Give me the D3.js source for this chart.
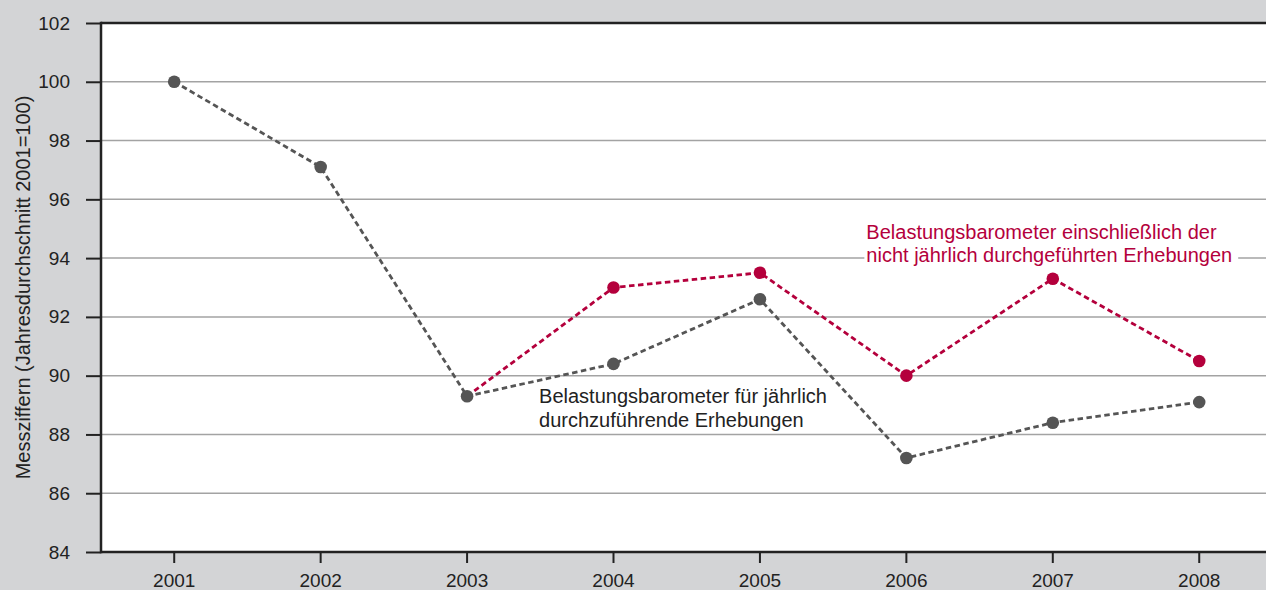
<!DOCTYPE html>
<html>
<head>
<meta charset="utf-8">
<script src="https://cdn.jsdelivr.net/npm/d3@7"></script>
<style>
  body { margin: 0; background: #d3d4d6; }
  svg { display: block; font-family: "Liberation Sans", Arial, Helvetica, sans-serif; }
</style>
</head>
<body>
<div id="chart"></div>
<script>
"use strict";

var years = ["2001", "2002", "2003", "2004", "2005", "2006", "2007", "2008"];
var annualValues = [100, 97.1, 89.3, 90.4, 92.6, 87.2, 88.4, 89.1];
var totalYears = ["2003", "2004", "2005", "2006", "2007", "2008"];
var totalValues = [89.3, 93.0, 93.5, 90.0, 93.3, 90.5];
var yTicks = [84, 86, 88, 90, 92, 94, 96, 98, 100, 102];
var yLabel = "Messziffern (Jahresdurchschnitt 2001=100)";
var annualLabel = ["Belastungsbarometer für jährlich", "durchzuführende Erhebungen"];
var totalLabel = ["Belastungsbarometer einschließlich der", "nicht jährlich durchgeführten Erhebungen"];

var W = 1266, H = 590;
var margin = {top: 23, left: 101, bottom: 38};
var band = 146.43;
var width = band * years.length,
    height = H - margin.top - margin.bottom;

var gray = "#555555", red = "#b4003c", ink = "#222222";

var svg = d3.select("#chart")
            .append("svg")
            .attr("width", W)
            .attr("height", H);

svg.append("rect").attr("width", W).attr("height", H).attr("fill", "#d3d4d6");

var g = svg.append("g")
           .attr("transform", "translate(" + margin.left + "," + margin.top + ")");

var x = d3.scaleBand().domain(years).range([0, width]).paddingInner(0);
var cx = function(d) { return x(d) + x.bandwidth() / 2; };

var y = d3.scaleLinear().domain([84, 102]).range([height, 0]);

// plot area
g.append("rect")
 .attr("width", width)
 .attr("height", height)
 .attr("fill", "#fff");

// grid lines
g.append("g")
 .selectAll("line")
 .data(yTicks.filter(function(t){ return t > 84 && t < 102; }))
 .enter().append("line")
 .attr("x1", 0).attr("x2", width)
 .attr("y1", function(d){ return y(d); })
 .attr("y2", function(d){ return y(d); })
 .attr("stroke", "#a3a3a3")
 .attr("stroke-width", 1.5);

// y axis
var yAxis = g.append("g")
 .call(d3.axisLeft(y).tickValues(yTicks).tickSize(15).tickPadding(16).tickFormat(d3.format("d")));
yAxis.select(".domain").remove();
yAxis.selectAll(".tick line").attr("stroke", ink).attr("stroke-width", 2);
yAxis.selectAll(".tick text").attr("font-size", 19).attr("fill", ink)
     .attr("font-family", "Liberation Sans, Arial, sans-serif");

// x axis
var xAxis = g.append("g")
 .attr("transform", "translate(0," + height + ")")
 .call(d3.axisBottom(x).tickSize(11).tickPadding(11));
xAxis.select(".domain").remove();
xAxis.selectAll(".tick line").attr("stroke", ink).attr("stroke-width", 2);
xAxis.selectAll(".tick text").attr("font-size", 19).attr("fill", ink)
     .attr("font-family", "Liberation Sans, Arial, sans-serif");

// frame lines
g.append("line").attr("x1", 0).attr("x2", width).attr("y1", 0).attr("y2", 0)
 .attr("stroke", ink).attr("stroke-width", 2.5);
g.append("line").attr("x1", 0).attr("x2", width).attr("y1", height).attr("y2", height)
 .attr("stroke", ink).attr("stroke-width", 2.5);
g.append("line").attr("x1", 0).attr("x2", 0).attr("y1", -1.25).attr("y2", height + 1.25)
 .attr("stroke", ink).attr("stroke-width", 2.5);

// y label
svg.append("text")
   .attr("transform", "translate(30," + (margin.top + height / 2) + ") rotate(-90)")
   .attr("text-anchor", "middle")
   .attr("font-size", 20)
   .attr("fill", ink)
   .text(yLabel);

// text labels with white background
function label(lines, x0, y0, lh, color) {
  var t = g.append("g");
  var bg = t.append("rect").attr("fill", "#fff");
  var txt = t.append("text")
     .attr("x", x0).attr("y", y0)
     .attr("font-size", 20)
     .attr("fill", color);
  lines.forEach(function(s, i){
    txt.append("tspan").attr("x", x0).attr("dy", i === 0 ? 0 : lh).text(s);
  });
  var b = txt.node().getBBox();
  bg.attr("x", b.x - 2).attr("y", b.y + 1).attr("width", b.width + 8).attr("height", b.height - 2);
}

var line = d3.line()
  .x(function(d){ return cx(d.year); })
  .y(function(d){ return y(d.value); });

var annual = years.map(function(yr, i){ return {year: yr, value: annualValues[i]}; });
var total = totalYears.map(function(yr, i){ return {year: yr, value: totalValues[i]}; });

label(annualLabel, cx("2003") + 72, 403 - margin.top, 24, ink);
label(totalLabel, cx("2006") - 40, 239 - margin.top, 23, red);

// lines
g.append("path")
 .datum(total)
 .attr("d", line)
 .attr("fill", "none")
 .attr("stroke", red)
 .attr("stroke-width", 2.8)
 .attr("stroke-dasharray", "5.5,3.5");

g.append("path")
 .datum(annual)
 .attr("d", line)
 .attr("fill", "none")
 .attr("stroke", gray)
 .attr("stroke-width", 2.8)
 .attr("stroke-dasharray", "5.5,3.5");

// dots
g.append("g").selectAll("circle")
 .data(total.slice(1))
 .enter().append("circle")
 .attr("cx", function(d){ return cx(d.year); })
 .attr("cy", function(d){ return y(d.value); })
 .attr("r", 6.3)
 .attr("fill", red);

g.append("g").selectAll("circle")
 .data(annual)
 .enter().append("circle")
 .attr("cx", function(d){ return cx(d.year); })
 .attr("cy", function(d){ return y(d.value); })
 .attr("r", 6.3)
 .attr("fill", gray);
</script>
</body>
</html>
